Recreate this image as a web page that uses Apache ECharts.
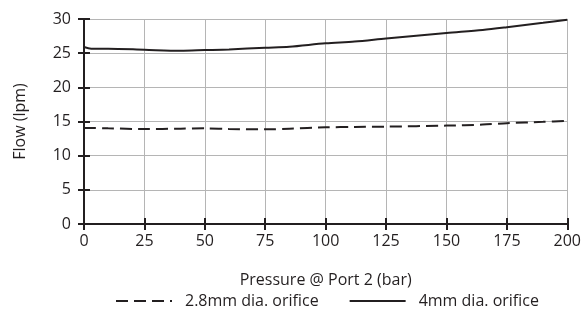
<!DOCTYPE html>
<html>
<head>
<meta charset="utf-8">
<script src="https://cdn.jsdelivr.net/npm/echarts@6/dist/echarts.min.js"></script>
<style>
  html, body { margin: 0; padding: 0; background: #fff; }
  #chart { width: 584px; height: 317px; }
</style>
</head>
<body>
<div id="chart"></div>
<script>
// pressure (bar) and flow (lpm)
const pressure = [0, 3, 10, 25, 40, 50, 60, 75, 85, 100, 112, 125, 150, 165, 175, 190, 200];
const flowSmall = [14.05, 14.05, 14.0, 13.9, 13.95, 14.0, 13.9, 13.85, 13.95, 14.15, 14.2, 14.25, 14.4, 14.55, 14.75, 14.95, 15.1];
const flowLarge = [25.9, 25.65, 25.65, 25.5, 25.35, 25.45, 25.55, 25.8, 25.95, 26.45, 26.7, 27.15, 27.95, 28.4, 28.8, 29.45, 29.9];
const seriesNames = ["2.8mm dia. orifice", "4mm dia. orifice"];

const ink = "#231f20";
const font = "Open Sans";

let chart = echarts.init(document.getElementById("chart"));

const pairs = (ys) => pressure.map((x, i) => [x, ys[i]]);

let option = {
  animation: false,
  textStyle: { fontFamily: font, color: ink },
  grid: { left: 84, right: 16, top: 19, bottom: 93 },
  legend: {
    bottom: 3,
    left: 110,
    itemWidth: 56,
    itemHeight: 10,
    itemGap: 30,
    itemStyle: { opacity: 0 },
    textStyle: { fontSize: 16, color: ink, fontFamily: font, padding: [0, 0, 0, 8] },
    data: seriesNames,
  },
  xAxis: [
    {
      type: "value",
      min: 0,
      max: 200,
      interval: 25,
      name: "Pressure @ Port 2 (bar)",
      nameLocation: "middle",
      nameGap: 48,
      nameTextStyle: { fontSize: 16, color: ink },
      axisLine: { lineStyle: { color: ink, width: 2 } },
      axisTick: { length: 6, lineStyle: { color: ink, width: 2 } },
      axisLabel: { fontSize: 16, color: ink, margin: 9 },
      splitLine: { lineStyle: { color: "#b5b5b5", width: 1 } },
    },
    {
      // inner half of the crossing ticks
      type: "value",
      position: "bottom",
      min: 0,
      max: 200,
      interval: 25,
      axisLine: { show: false },
      axisTick: { inside: true, length: 6, lineStyle: { color: ink, width: 2 } },
      axisLabel: { show: false },
      splitLine: { show: false },
    },
  ],
  yAxis: [
    {
      type: "value",
      min: 0,
      max: 30,
      interval: 5,
      name: "Flow (lpm)",
      nameLocation: "middle",
      nameGap: 56,
      nameTextStyle: { fontSize: 16, color: ink },
      axisLine: { show: true, lineStyle: { color: ink, width: 2 } },
      axisTick: { show: true, length: 6, lineStyle: { color: ink, width: 2 } },
      axisLabel: { fontSize: 16, color: ink, margin: 13 },
      splitLine: { lineStyle: { color: "#b5b5b5", width: 1 } },
    },
    {
      type: "value",
      position: "left",
      min: 0,
      max: 30,
      interval: 5,
      axisLine: { show: false },
      axisTick: { show: true, inside: true, length: 6, lineStyle: { color: ink, width: 2 } },
      axisLabel: { show: false },
      splitLine: { show: false },
    },
  ],
  series: [
    {
      name: seriesNames[0],
      type: "line",
      symbol: "none",
      smooth: 0.3,
      data: pairs(flowSmall),
      lineStyle: { color: ink, width: 2, type: [12, 6] },
      itemStyle: { color: ink },
    },
    {
      name: seriesNames[1],
      type: "line",
      symbol: "none",
      smooth: 0.3,
      data: pairs(flowLarge),
      lineStyle: { color: ink, width: 2 },
      itemStyle: { color: ink },
    },
  ],
};
option && chart.setOption(option);
</script>
</body>
</html>
